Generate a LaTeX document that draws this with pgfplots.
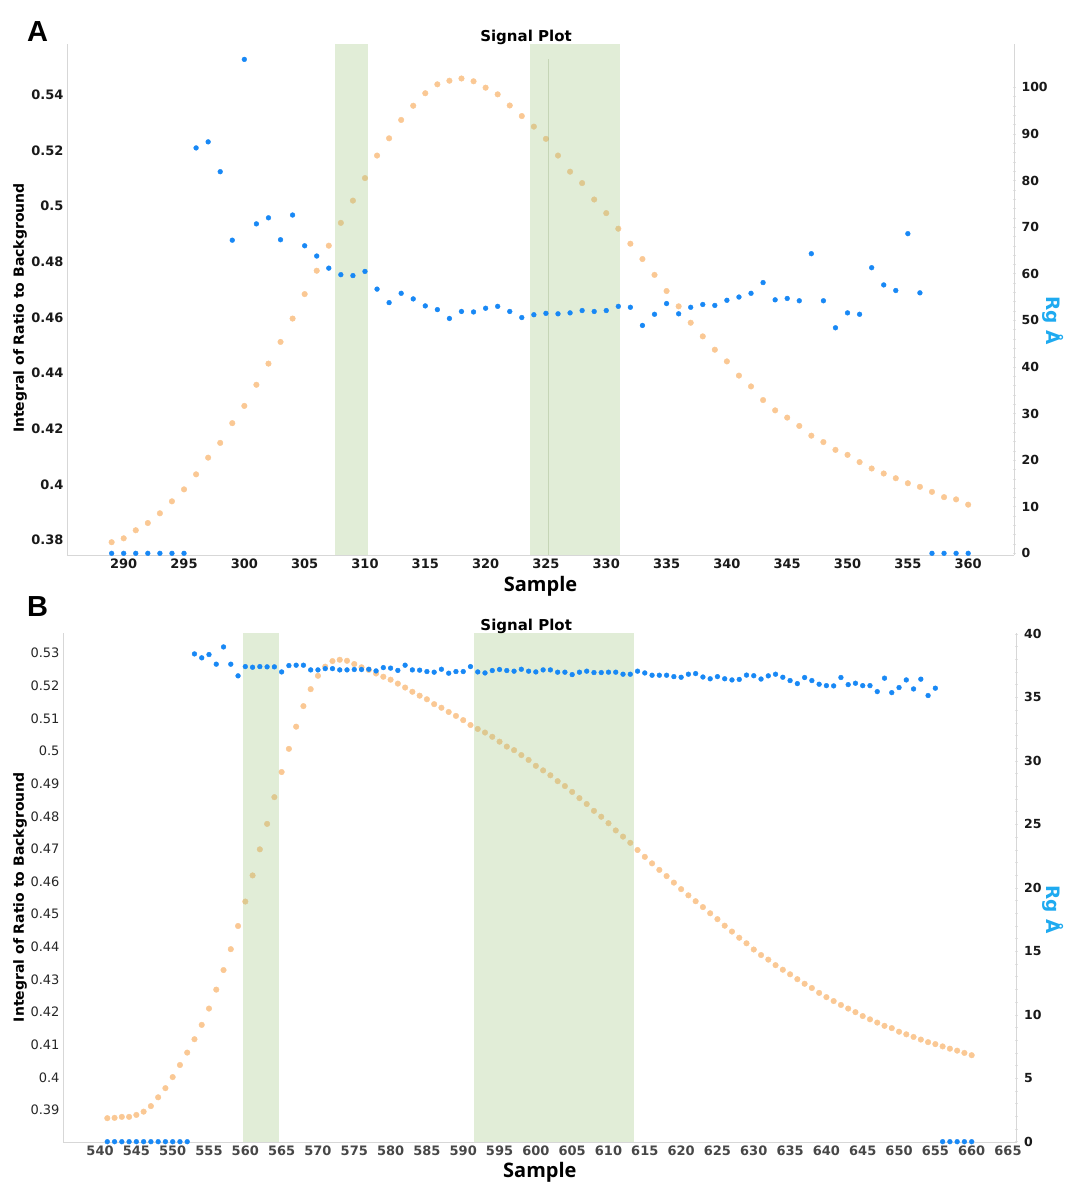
\documentclass[border=0pt]{standalone}
\usepackage{pgfplots}
\pgfplotsset{compat=1.18}
\usepackage{pgfplotstable}
\usepackage{fontspec}
\setmainfont{DejaVu Sans}
\newfontfamily\opensans{Open Sans}
\newfontfamily\libsans{Liberation Sans}

\definecolor{orangeC}{RGB}{250,200,148}
\definecolor{blueC}{RGB}{24,136,245}
\definecolor{bandC}{RGB}{165,200,135}
\definecolor{rgC}{RGB}{30,170,240}
\definecolor{axC}{RGB}{215,215,215}

\pgfplotstableread{
s v
289 0.3792
290 0.3806
291 0.3835
292 0.3861
293 0.3896
294 0.3939
295 0.3982
296 0.4036
297 0.4096
298 0.4149
299 0.4220
300 0.4282
301 0.4358
302 0.4434
303 0.4512
304 0.4596
305 0.4684
306 0.4768
307 0.4858
308 0.4940
309 0.5020
310 0.5101
311 0.5182
312 0.5244
313 0.5310
314 0.5361
315 0.5406
316 0.5438
317 0.5451
318 0.5459
319 0.5449
320 0.5426
321 0.5402
322 0.5362
323 0.5324
324 0.5286
325 0.5242
326 0.5182
327 0.5124
328 0.5083
329 0.5024
330 0.4975
331 0.4919
332 0.4865
333 0.4810
334 0.4753
335 0.4695
336 0.4640
337 0.4581
338 0.4532
339 0.4484
340 0.4442
341 0.4391
342 0.4352
343 0.4303
344 0.4266
345 0.4240
346 0.4210
347 0.4175
348 0.4152
349 0.4124
350 0.4106
351 0.4080
352 0.4057
353 0.4039
354 0.4022
355 0.4004
356 0.3991
357 0.3973
358 0.3954
359 0.3946
360 0.3927
}\tabAorange

\pgfplotstableread{
s rg
289 0
290 0
291 0
292 0
293 0
294 0
295 0
296 87.0
297 88.3
298 81.9
299 67.2
300 106.0
301 70.7
302 72.0
303 67.3
304 72.6
305 66.0
306 63.8
307 61.2
308 59.8
309 59.6
310 60.5
311 56.7
312 53.8
313 55.8
314 54.6
315 53.1
316 52.3
317 50.4
318 51.9
319 51.8
320 52.6
321 53.0
322 51.9
323 50.6
324 51.2
325 51.5
326 51.4
327 51.6
328 52.1
329 51.9
330 52.1
331 53.0
332 52.8
333 48.9
334 51.3
335 53.6
336 51.4
337 52.8
338 53.4
339 53.2
340 54.3
341 55.0
342 55.8
343 58.1
344 54.4
345 54.7
346 54.2
347 64.3
348 54.2
349 48.4
350 51.6
351 51.3
352 61.3
353 57.6
354 56.4
355 68.6
356 55.9
357 0
358 0
359 0
360 0
}\tabAblue

\pgfplotstableread{
s v
541 0.3875
542 0.3876
543 0.3879
544 0.3879
545 0.3885
546 0.3895
547 0.3912
548 0.3939
549 0.3967
550 0.4001
551 0.4038
552 0.4076
553 0.4117
554 0.4161
555 0.4211
556 0.4269
557 0.4329
558 0.4393
559 0.4464
560 0.4539
561 0.4619
562 0.4699
563 0.4777
564 0.4859
565 0.4936
566 0.5007
567 0.5075
568 0.5138
569 0.5190
570 0.5231
571 0.5259
572 0.5276
573 0.5280
574 0.5277
575 0.5267
576 0.5257
577 0.5249
578 0.5238
579 0.5228
580 0.5219
581 0.5207
582 0.5195
583 0.5182
584 0.5170
585 0.5159
586 0.5144
587 0.5133
588 0.5120
589 0.5108
590 0.5095
591 0.5080
592 0.5068
593 0.5057
594 0.5044
595 0.5029
596 0.5014
597 0.5003
598 0.4988
599 0.4973
600 0.4955
601 0.4941
602 0.4926
603 0.4908
604 0.4893
605 0.4875
606 0.4856
607 0.4838
608 0.4817
609 0.4799
610 0.4779
611 0.4757
612 0.4738
613 0.4719
614 0.4697
615 0.4676
616 0.4656
617 0.4636
618 0.4617
619 0.4597
620 0.4577
621 0.4558
622 0.4540
623 0.4522
624 0.4503
625 0.4485
626 0.4465
627 0.4447
628 0.4428
629 0.4411
630 0.4392
631 0.4375
632 0.4361
633 0.4344
634 0.4330
635 0.4316
636 0.4301
637 0.4287
638 0.4274
639 0.4259
640 0.4246
641 0.4234
642 0.4222
643 0.4211
644 0.4200
645 0.4188
646 0.4178
647 0.4168
648 0.4158
649 0.4151
650 0.4140
651 0.4132
652 0.4124
653 0.4116
654 0.4108
655 0.4102
656 0.4095
657 0.4088
658 0.4082
659 0.4075
660 0.4068
}\tabBorange

\pgfplotstableread{
s rg
541 0
542 0
543 0
544 0
545 0
546 0
547 0
548 0
549 0
550 0
551 0
552 0
553 38.43
554 38.12
555 38.38
556 37.62
557 38.98
558 37.62
559 36.70
560 37.43
561 37.38
562 37.43
563 37.41
564 37.41
565 37.01
566 37.51
567 37.54
568 37.54
569 37.17
570 37.17
571 37.27
572 37.27
573 37.17
574 37.17
575 37.20
576 37.20
577 37.22
578 37.09
579 37.35
580 37.31
581 37.13
582 37.54
583 37.17
584 37.15
585 37.04
586 36.99
587 37.22
588 36.91
589 37.04
590 37.04
591 37.43
592 37.01
593 36.93
594 37.12
595 37.20
596 37.12
597 37.07
598 37.22
599 37.07
600 37.01
601 37.17
602 37.17
603 36.99
604 36.99
605 36.80
606 36.99
607 37.07
608 36.96
609 36.96
610 36.99
611 36.99
612 36.83
613 36.83
614 37.07
615 36.93
616 36.75
617 36.75
618 36.75
619 36.64
620 36.59
621 36.83
622 36.88
623 36.61
624 36.47
625 36.64
626 36.47
627 36.38
628 36.42
629 36.76
630 36.71
631 36.45
632 36.70
633 36.83
634 36.59
635 36.33
636 36.09
637 36.57
638 36.33
639 36.04
640 35.93
641 35.91
642 36.57
643 36.01
644 36.12
645 35.93
646 35.93
647 35.46
648 36.52
649 35.38
650 35.78
651 36.38
652 35.67
653 36.44
654 35.15
655 35.73
656 0
657 0
658 0
659 0
660 0
}\tabBblue

\pgfplotsset{
  sigbase/.style={
    scale only axis,
    axis line style={-, draw=axC, line width=0.8pt},
    major tick length=0pt, minor tick length=0pt,
    scaled ticks=false,
    /pgf/number format/assume math mode=true,
    /pgf/number format/fixed,
  },
  rightticks/.style={minor y tick num=4, tick align=center,
    minor tick length=3pt, major tick length=3pt,
    every tick/.style={draw=axC!70, line width=0.5pt},
    every minor tick/.style={draw=axC!70, line width=0.5pt}},
  orangemarks/.style={only marks, mark=*, mark size=2.8pt, color=orangeC,
    mark options={solid, draw=orangeC, fill=orangeC}},
  bluemarks/.style={only marks, mark=*, mark size=2.4pt, color=blueC,
    mark options={solid, draw=blueC, fill=blueC}},
  lefty/.style={ylabel={Integral of Ratio to Background},
    ylabel style={font=\bfseries\fontsize{14}{14}\selectfont, anchor=center, inner sep=0pt}},
  righty/.style={ylabel={Rg Å},
    ylabel style={font=\bfseries\fontsize{18.5}{18.5}\selectfont, text=rgC, rotate=-180, anchor=center, inner sep=0pt}},
  sampx/.style={xlabel={Sample},
    xlabel style={font=\opensans\bfseries\fontsize{20}{20}\selectfont, at={(axis description cs:0.5,0)}, anchor=north, inner sep=0pt}},
  sigtitle/.style={title={Signal Plot},
    title style={font=\bfseries\fontsize{15}{15}\selectfont, anchor=south, inner sep=0pt, yshift=-7pt}},
}

\begin{document}
\begin{tikzpicture}
\path[use as bounding box] (0pt,0pt) rectangle (1066pt,-1183pt);

% ---------------- Panel A ----------------
\begin{axis}[sigbase, lefty, sampx, sigtitle,
  at={(67pt,-555pt)}, anchor=south west, width=947pt, height=511pt,
  xmin=285.3, xmax=363.8, ymin=0.3746, ymax=0.5583,
  axis x line*=bottom, axis y line*=left,
  xtick={290,295,...,360},
  ytick={0.38,0.4,0.42,0.44,0.46,0.48,0.5,0.52,0.54},
  ticklabel style={font=\bfseries\fontsize{13}{13}\selectfont, text=black!90},
  ylabel style={at={(axis description cs:-0.0496,0.483)}},
  xlabel style={yshift=-21pt},
  title style={at={(axis description cs:0.4847,1)}},
]
\addplot[orangemarks] table[x=s, y=v] {\tabAorange};
\end{axis}
\begin{axis}[sigbase, righty, rightticks,
  at={(67pt,-555pt)}, anchor=south west, width=947pt, height=511pt,
  xmin=285.3, xmax=363.8, ymin=-0.36, ymax=109.3,
  axis x line=none, axis y line*=right,
  ytick={0,10,...,100},
  yticklabel style={font=\bfseries\fontsize{12.5}{12.5}\selectfont, text=black!90, xshift=2.5pt},
  ylabel style={at={(axis description cs:1.0412,0.459)}},
]
\addplot[bluemarks] table[x=s, y=rg] {\tabAblue};
\fill[bandC, fill opacity=0.33] (axis cs:307.5,-0.36) rectangle (axis cs:310.25,109.3);
\fill[bandC, fill opacity=0.33] (axis cs:323.7,-0.36) rectangle (axis cs:331.15,109.3);
\draw[bandC!80!black, draw opacity=0.3, line width=0.8pt] (axis cs:325.2,-0.36) -- (axis cs:325.2,106);
\end{axis}
\node[font=\libsans\bfseries\fontsize{29}{29}\selectfont] at (37.5pt,-31.5pt) {A};

% ---------------- Panel B ----------------
\begin{axis}[sigbase, lefty, sampx, sigtitle,
  at={(63pt,-1142.3pt)}, anchor=south west, width=953.7pt, height=509.6pt,
  xmin=534.9, xmax=666.2, ymin=0.3801, ymax=0.5363,
  axis x line*=bottom, axis y line*=left,
  xtick={540,545,...,665},
  ytick={0.39,0.4,0.41,0.42,0.43,0.44,0.45,0.46,0.47,0.48,0.49,0.5,0.51,0.52,0.53},
  xticklabel style={font=\bfseries\fontsize{13}{13}\selectfont, text=black!72},
  yticklabel style={font=\fontsize{13}{13}\selectfont, text=black!85},
  ylabel style={at={(axis description cs:-0.045,0.481)}},
  xlabel style={yshift=-20pt},
  title style={at={(axis description cs:0.4857,1)}},
]
\addplot[orangemarks] table[x=s, y=v] {\tabBorange};
\end{axis}
\begin{axis}[sigbase, righty, rightticks,
  at={(63pt,-1142.3pt)}, anchor=south west, width=953.7pt, height=509.6pt,
  xmin=534.9, xmax=666.2, ymin=-0.05, ymax=40.1,
  axis x line=none, axis y line*=right,
  ytick={0,5,...,40},
  yticklabel style={font=\bfseries\fontsize{12.5}{12.5}\selectfont, text=black!90, xshift=2.5pt},
  ylabel style={at={(axis description cs:1.0381,0.457)}},
]
\addplot[bluemarks] table[x=s, y=rg] {\tabBblue};
\fill[bandC, fill opacity=0.33] (axis cs:559.7,-0.05) rectangle (axis cs:564.6,40.1);
\fill[bandC, fill opacity=0.33] (axis cs:591.5,-0.05) rectangle (axis cs:613.5,40.1);
\end{axis}
\node[font=\libsans\bfseries\fontsize{29}{29}\selectfont] at (37.5pt,-607pt) {B};
\end{tikzpicture}
\end{document}
